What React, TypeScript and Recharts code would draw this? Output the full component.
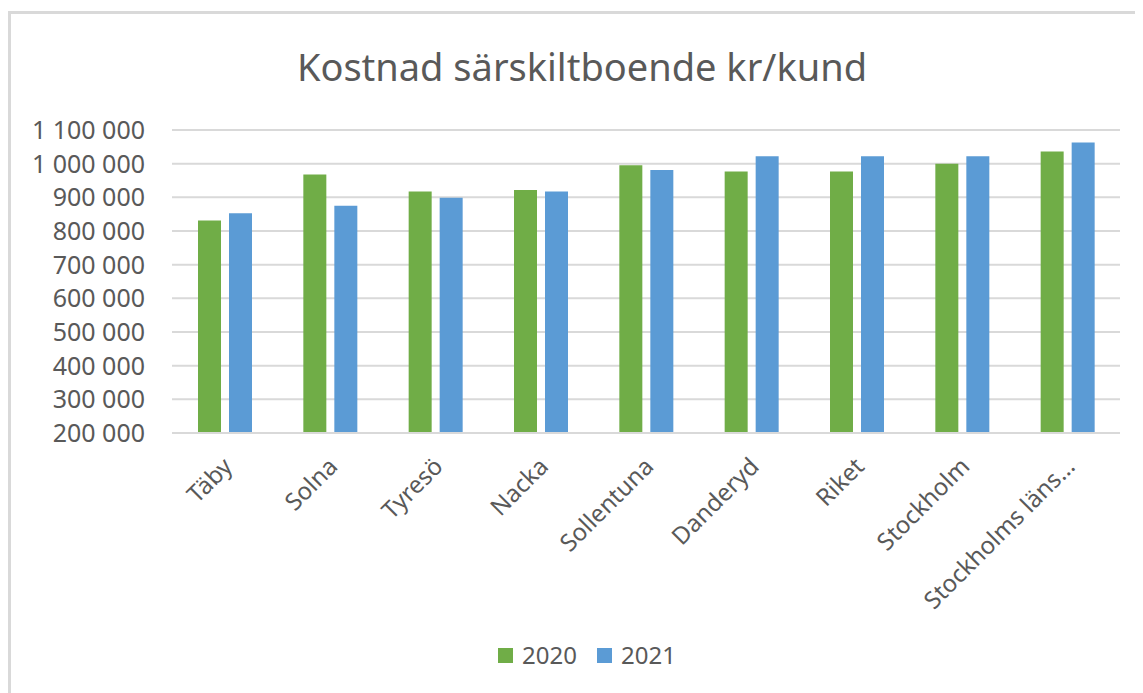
import { BarChart, Bar, XAxis, YAxis, CartesianGrid, Legend } from "recharts";

const categories = [
  "Täby",
  "Solna",
  "Tyresö",
  "Nacka",
  "Sollentuna",
  "Danderyd",
  "Riket",
  "Stockholm",
  "Stockholms läns…",
];
const values2020 = [831000, 968000, 917000, 922000, 995000, 977000, 977000, 1000000, 1036000];
const values2021 = [853000, 875000, 899000, 917000, 981000, 1022000, 1022000, 1022000, 1063000];
const yTicks = [200000, 300000, 400000, 500000, 600000, 700000, 800000, 900000, 1000000, 1100000];

const data = categories.map((name, i) => ({
  name,
  y2020: values2020[i],
  y2021: values2021[i],
}));

const TEXT = "#595959";
const GRID = "#d9d9d9";
const FONT = "'Noto Sans', sans-serif";

function fmt(v: number) {
  return String(v).replace(/\B(?=(\d{3})+(?!\d))/g, " ");
}

// rotated category labels, right end sits under the category
function CategoryTick({ x, y, payload }: any) {
  return (
    <g transform={`translate(${x + 9},${y + 35})`}>
      <text x={0} y={0} textAnchor="end" transform="rotate(-45)" fill={TEXT} fontSize={24} fontFamily={FONT}>
        {payload.value}
      </text>
    </g>
  );
}

function LegendContent({ payload }: any) {
  return (
    <div style={{ display: "flex", justifyContent: "center", gap: 20, fontFamily: FONT, fontSize: 24, lineHeight: "24px", color: TEXT }}>
      {(payload || []).map((p: any) => (
        <div key={p.value} style={{ display: "flex", alignItems: "center" }}>
          <span style={{ display: "inline-block", width: 15, height: 15, background: p.color, marginRight: 9 }} />
          {p.value}
        </div>
      ))}
    </div>
  );
}

export default function App() {
  return (
    <div
      style={{
        position: "relative",
        top: 3,
        width: 1135,
        height: 682,
        borderTop: `3px solid ${GRID}`,
        borderLeft: `3px solid ${GRID}`,
        background: "#fff",
      }}
    >
      <div
        style={{
          position: "absolute",
          top: 33,
          left: 5,
          width: 1132,
          textAlign: "center",
          fontFamily: FONT,
          fontSize: 38,
          lineHeight: "38px",
          color: TEXT,
        }}
      >
        Kostnad särskiltboende kr/kund
      </div>
      <BarChart width={1132} height={679} data={data} margin={{ top: 116, right: 23, left: 0, bottom: 36 }} barSize={23} barGap={8}>
        <CartesianGrid vertical={false} stroke={GRID} strokeWidth={2} />
        <XAxis
          dataKey="name"
          interval={0}
          height={200}
          tickLine={false}
          tickSize={0}
          tickMargin={0}
          axisLine={{ stroke: GRID, strokeWidth: 2 }}
          tick={<CategoryTick />}
        />
        <YAxis
          width={161}
          domain={[200000, 1100000]}
          ticks={yTicks}
          interval={0}
          axisLine={false}
          tickLine={false}
          tickSize={0}
          tickMargin={27}
          tickFormatter={fmt}
          tick={{ fill: TEXT, fontSize: 25, fontFamily: FONT }}
        />
        <Legend content={<LegendContent />} wrapperStyle={{ top: 629, left: 10, width: 1132 }} />
        <Bar dataKey="y2020" name="2020" fill="#70ad47" isAnimationActive={false} />
        <Bar dataKey="y2021" name="2021" fill="#5b9bd5" isAnimationActive={false} />
      </BarChart>
    </div>
  );
}
